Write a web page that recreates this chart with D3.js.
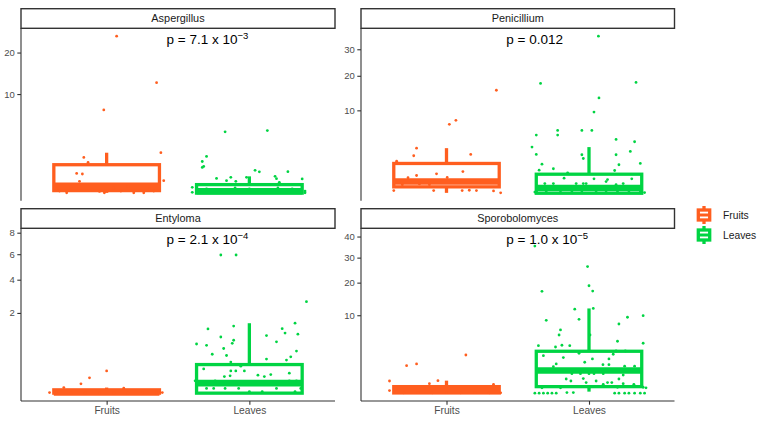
<!DOCTYPE html>
<html>
<head>
<meta charset="utf-8">
<script src="https://cdn.jsdelivr.net/npm/d3@7"></script>
<style>
  body { margin: 0; background: #fff; }
  svg { display: block; font-family: "Liberation Sans", Arial, sans-serif; }
</style>
</head>
<body>
<svg id="chart" width="764" height="422"></svg>
<script>
// panel names, groups, tick values, p-value labels
const genera = ["Aspergillus", "Penicillium", "Entyloma", "Sporobolomyces"];
const groups = ["Fruits", "Leaves"];
const yTicks = [[10, 20], [10, 20, 30], [2, 4, 6, 8], [10, 20, 30, 40]];
const pText = ["p = 7.1 x 10", "p = 0.012", "p = 2.1 x 10", "p = 1.0 x 10"];
const pExp = ["\u22123", "", "\u22124", "\u22125"];
const labelY = [24.9, 35.7, 7.66, 40.2];

// box stats per genus: [Fruits, Leaves], each [lowWhisker, q1, median, q3, highWhisker]
const boxStats = [
  [[0.002, 0.0135, 0.071, 0.87, 1.72], [0.001, 0.0014, 0.0089, 0.093, 0.32]],
  [[0.0012, 0.069, 0.215, 1.32, 2.99], [0, 0.0004, 0.047, 0.55, 3.13]],
  [[0, 0, 0.0002, 0.0034, 0.0097], [0, 0, 0.031, 0.254, 1.52]],
  [[0.0012, 0.0016, 0.026, 0.086, 0.285], [0.0085, 0.086, 0.89, 2.94, 11.8]]
];

// jittered points: [offset from category, value]
const ptsAspFruits = [[0.07, 24.9], [0.35, 12.4], [-0.02, 7.08], [0.38, 1.72], [-0.16, 1.35], [-0.13, 1.01],
  [-0.21, 0.435], [-0.17, 0.41], [-0.19, 0.167], [0.40, 0.185], [-0.28, 0.002], [-0.016, 0.002], [0.19, 0.002],
  [0.26, 0.002], [-0.35, 0.03], [-0.25, 0.05], [-0.1, 0.02], [0.05, 0.04], [0.15, 0.06], [0.3, 0.03],
  [-0.05, 0.008], [0.1, 0.01], [0.33, 0.01], [-0.33, 0.01]];
const ptsAspLeaves = [[-0.17, 3.88], [0.126, 4.04], [-0.30, 1.43], [-0.33, 1.07], [-0.32, 0.77], [-0.33, 0.72],
  [0.04, 0.57], [0.07, 0.50], [0.27, 0.51], [-0.23, 0.25], [-0.13, 0.285], [-0.02, 0.285], [0.18, 0.32],
  [0.19, 0.243], [0.37, 0.234], [-0.16, 0.185], [-0.095, 0.167], [0.21, 0.142], [-0.40, 0.048], [-0.40, 0.004],
  [-0.3, 0.03], [-0.2, 0.02], [-0.1, 0.04], [0, 0.03], [0.1, 0.02], [0.2, 0.04], [0.3, 0.03], [0.39, 0.01],
  [0.39, 0.002]];
const ptsPenFruits = [[0.35, 15.4], [0.02, 6.92], [0.066, 7.75], [-0.21, 2.99], [-0.23, 2.08], [0.17, 2.22],
  [-0.35, 1.53], [0.115, 0.71], [-0.07, 0.57], [-0.21, 0.48], [-0.27, 0.37], [0.005, 0.38], [-0.37, 0.015],
  [-0.09, 0.015], [0, 0.015], [0.11, 0.015], [0.16, 0.018], [0.21, 0.015], [0.33, 0.012], [0.38, 0.0012],
  [-0.31, 0.12], [-0.19, 0.14], [-0.12, 0.12]];
const ptsPenLeaves = [[0.066, 35.7], [-0.34, 17.5], [0.33, 17.8], [0.07, 13.2], [0.035, 9.6], [-0.37, 4.95],
  [-0.22, 5.77], [-0.22, 4.95], [-0.05, 5.77], [0.02, 5.77], [0.19, 4.25], [0.32, 3.89], [-0.40, 3.13],
  [-0.37, 2.22], [-0.05, 2.19], [-0.04, 1.79], [0.19, 2.19], [0.29, 2.58], [0.36, 1.32], [-0.33, 1.26],
  [0.21, 1.21], [-0.25, 0.90], [-0.35, 0.80], [0.18, 0.78], [-0.15, 0.63], [-0.175, 0.35], [0.035, 0.32],
  [0.13, 0.29], [0.12, 0.215], [0.30, 0.32], [-0.31, 0.15], [-0.25, 0.15], [-0.09, 0.15], [-0.04, 0.15],
  [-0.02, 0.15], [0.24, 0.15], [0.19, 0.12], [-0.38, 0.004], [-0.3, 0.006], [-0.2, 0.004], [-0.12, 0.005],
  [-0.05, 0.004], [0.05, 0.005], [0.12, 0.004], [0.2, 0.006], [0.28, 0.004], [0.36, 0.005], [0.39, 0.002]];
const ptsEntFruits = [[0, 0.154], [-0.12, 0.073], [-0.18, 0.027], [-0.30, 0.0097], [0.12, 0.0077],
  [-0.40, 0.0001], [-0.35, 0], [-0.25, 0], [-0.15, 0], [-0.05, 0], [0.05, 0], [0.15, 0], [0.25, 0], [0.35, 0],
  [0.39, 0.0001]];
const ptsEntLeaves = [[-0.2, 5.93], [-0.093, 5.93], [0.40, 2.60], [0.32, 1.52], [-0.11, 1.40], [-0.29, 1.28],
  [0.23, 1.29], [0.25, 1.12], [0.34, 1.08], [0.12, 1.03], [-0.20, 0.98], [-0.11, 0.87], [-0.37, 0.75],
  [-0.30, 0.71], [-0.12, 0.77], [0.19, 0.82], [-0.18, 0.62], [0.33, 0.55], [-0.26, 0.47], [-0.16, 0.44],
  [0.29, 0.41], [0.26, 0.34], [0.12, 0.36], [-0.13, 0.30], [-0.09, 0.254], [-0.06, 0.226], [-0.32, 0.183],
  [-0.13, 0.154], [-0.095, 0.154], [-0.035, 0.154], [0.28, 0.124], [0.06, 0.10], [0.105, 0.085], [0.15, 0.107],
  [-0.175, 0.085], [-0.135, 0.093], [-0.38, 0.047], [-0.24, 0.047], [0.28, 0.047], [0.33, 0.047],
  [-0.30, 0.007], [-0.25, 0.007], [-0.17, 0.007], [-0.075, 0.007], [0, 0.0008], [0.09, 0.0008], [0.19, 0.007],
  [0.32, 0.0008], [0.36, 0.007]];
const ptsSpoFruits = [[0.136, 2.45], [-0.21, 1.45], [-0.28, 1.29], [-0.06, 0.285], [-0.12, 0.17], [-0.40, 0.27],
  [-0.40, 0.018], [0.33, 0.15], [-0.3, 0.002], [-0.2, 0.003], [-0.1, 0.002], [0, 0.004], [0.1, 0.002],
  [0.2, 0.003], [0.3, 0.002], [0.38, 0.002]];
const ptsSpoLeaves = [[-0.38, 35.3], [-0.01, 26.2], [0, 18.9], [0.026, 17.1], [-0.33, 17.0], [0.03, 11.8],
  [-0.10, 11.6], [-0.30, 8.76], [-0.07, 9.0], [0.27, 9.49], [0.38, 9.89], [0.21, 7.9], [-0.20, 6.61],
  [-0.21, 5.61], [0.007, 5.61], [0.20, 4.48], [0.38, 4.15], [-0.355, 3.76], [-0.235, 3.56], [-0.19, 3.83],
  [-0.135, 3.76], [0.19, 2.98], [0.255, 2.98], [-0.07, 2.67], [-0.32, 2.37], [-0.18, 2.13], [-0.03, 1.62],
  [0.024, 1.98], [0.14, 1.98], [0.17, 2.54], [-0.23, 1.45], [0.098, 1.38], [0.14, 1.38], [0.25, 1.24],
  [0.32, 1.24], [-0.12, 0.66], [-0.06, 0.66], [0, 0.66], [0.035, 0.66], [0.10, 0.66], [0.24, 0.58],
  [-0.25, 1.20], [-0.16, 0.36], [-0.127, 0.27], [-0.04, 0.38], [-0.02, 0.21], [0.05, 0.27], [0.10, 0.15],
  [0.13, 0.21], [0.16, 0.21], [0.21, 0.36], [0.24, 0.17], [0.315, 0.15], [0.38, 0.072], [-0.33, 0.06],
  [-0.2, 0.06], [0, 0.06], [0.2, 0.07], [0.33, 0.09], [0.4, 0.06], [-0.38, 0.001], [-0.35, 0.001],
  [-0.32, 0.001], [-0.29, 0.001], [-0.26, 0.001], [-0.23, 0.001], [-0.155, 0.003], [-0.11, 0.003],
  [0.18, 0.001], [0.21, 0.001], [0.25, 0.001], [0.28, 0.001], [0.32, 0.001], [0.36, 0.001], [0.39, 0.001]];

const points = [
  [ptsAspFruits, ptsAspLeaves],
  [ptsPenFruits, ptsPenLeaves],
  [ptsEntFruits, ptsEntLeaves],
  [ptsSpoFruits, ptsSpoLeaves]
];

const colors = ["#FF5E1F", "#00D443"];
const lw = 3.3;

const svg = d3.select("#chart");
const panelX = [[21, 335], [361, 674.5]];
const panelY = [[28.3, 200.7], [228.3, 401]];

genera.forEach((name, i) => {
  const col = i % 2, row = Math.floor(i / 2);
  const [x0, x1] = panelX[col];
  const [y0, y1] = panelY[row];

  const x = d3.scaleLinear().domain([0.4, 2.6]).range([x0, x1]);

  // y range like ggplot: sqrt transform, 5% expansion on transformed scale
  const vals = points[i].flat().map(d => d[1]).concat([labelY[i]]);
  const sLo = Math.sqrt(d3.min(vals)), sHi = Math.sqrt(d3.max(vals));
  const pad = (sHi - sLo) * 0.05;
  const unsq = s => s < 0 ? -s * s : s * s;
  const y = d3.scaleSqrt().domain([unsq(sLo - pad), unsq(sHi + pad)]).range([y1, y0]);

  const g = svg.append("g");

  // strip
  g.append("rect")
    .attr("x", x0).attr("y", y0 - 19.6)
    .attr("width", x1 - x0).attr("height", 19.6)
    .attr("fill", "#fff").attr("stroke", "#333").attr("stroke-width", 1.4);
  g.append("text")
    .attr("x", (x0 + x1) / 2).attr("y", y0 - 6)
    .attr("text-anchor", "middle")
    .attr("font-size", 10.9).attr("fill", "#1a1a1a")
    .text(name);

  // y axis
  const yAxis = g.append("g")
    .attr("transform", `translate(${x0},0)`)
    .call(d3.axisLeft(y).tickValues(yTicks[i]).tickSize(3.7).tickPadding(2.5).tickFormat(d3.format("d")));
  yAxis.select(".domain").attr("stroke", "#333").attr("stroke-width", 1.1)
    .attr("d", `M0,${y0}V${y1}`);
  yAxis.selectAll(".tick line").attr("stroke", "#333").attr("stroke-width", 1.1);
  yAxis.selectAll(".tick text").attr("fill", "#4d4d4d").attr("font-size", 9.5)
    .attr("font-family", "Liberation Sans, Arial, sans-serif");

  // x axis only on bottom row
  if (row === 1) {
    const xAxis = g.append("g")
      .attr("transform", `translate(0,${y1})`)
      .call(d3.axisBottom(x).tickValues([1, 2]).tickSize(3.7).tickPadding(2.5).tickFormat(d => groups[d - 1]));
    xAxis.select(".domain").attr("stroke", "#333").attr("stroke-width", 1.1)
      .attr("d", `M${x0},0H${x1}`);
    xAxis.selectAll(".tick line").attr("stroke", "#333").attr("stroke-width", 1.1);
    xAxis.selectAll(".tick text").attr("fill", "#4d4d4d").attr("font-size", 10.2)
      .attr("font-family", "Liberation Sans, Arial, sans-serif");
  }

  // boxes
  groups.forEach((grp, gi) => {
    const [lo, q1, med, q3, hi] = boxStats[i][gi];
    const c = x(gi + 1), hw = x(gi + 1.37) - c;
    const bg = g.append("g").attr("stroke", colors[gi]).attr("fill", "none");
    bg.append("line").attr("x1", c).attr("x2", c).attr("y1", y(hi)).attr("y2", y(q3)).attr("stroke-width", lw);
    bg.append("line").attr("x1", c).attr("x2", c).attr("y1", y(q1)).attr("y2", y(lo)).attr("stroke-width", lw);
    bg.append("rect")
      .attr("x", c - hw).attr("width", 2 * hw)
      .attr("y", y(q3)).attr("height", Math.max(0, y(q1) - y(q3)))
      .attr("fill", "#fff").attr("stroke-width", lw);
    bg.append("line").attr("x1", c - hw).attr("x2", c + hw)
      .attr("y1", y(med)).attr("y2", y(med)).attr("stroke-width", lw * 2);
  });

  // jittered points
  groups.forEach((grp, gi) => {
    g.append("g").selectAll("circle")
      .data(points[i][gi])
      .join("circle")
      .attr("cx", d => x(gi + 1 + d[0]))
      .attr("cy", d => y(d[1]))
      .attr("r", 1.4)
      .attr("fill", colors[gi]);
  });

  // p-value label
  const t = g.append("text")
    .attr("x", x(1.42)).attr("y", y(labelY[i]) + 8)
    .attr("font-size", 13.5).attr("fill", "#000");
  t.append("tspan").text(pText[i]);
  if (pExp[i]) t.append("tspan").attr("dy", -5.5).attr("font-size", 9.5).text(pExp[i]);
});

// legend
const legend = svg.append("g").attr("transform", "translate(694,205)");
groups.forEach((grp, gi) => {
  const k = legend.append("g").attr("transform", `translate(0,${gi * 20})`)
    .attr("stroke", colors[gi]).attr("fill", "none");
  k.append("line").attr("x1", 10).attr("x2", 10).attr("y1", 1).attr("y2", 5).attr("stroke-width", lw);
  k.append("line").attr("x1", 10).attr("x2", 10).attr("y1", 15).attr("y2", 19).attr("stroke-width", lw);
  k.append("rect").attr("x", 4.3).attr("y", 5).attr("width", 11.4).attr("height", 10)
    .attr("fill", "#fff").attr("stroke-width", lw);
  k.append("line").attr("x1", 4.3).attr("x2", 15.7).attr("y1", 10).attr("y2", 10).attr("stroke-width", 3);
  legend.append("text")
    .attr("x", 29).attr("y", gi * 20 + 10).attr("dy", "0.35em")
    .attr("font-size", 10.3).attr("fill", "#1a1a1a")
    .text(grp);
});
</script>
</body>
</html>
